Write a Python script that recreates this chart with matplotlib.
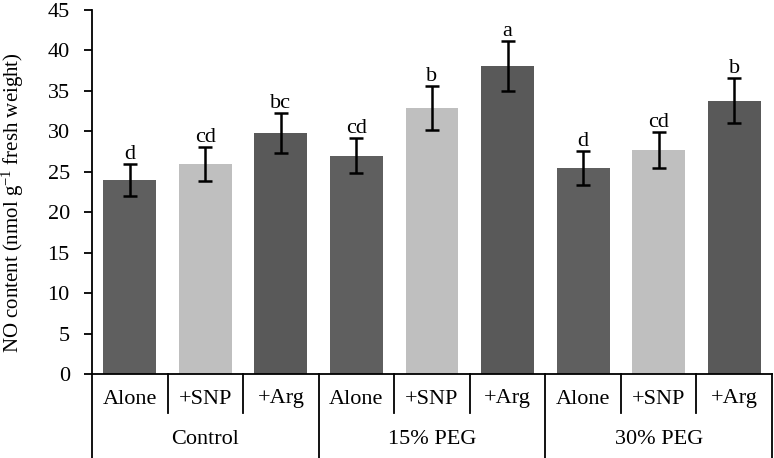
import matplotlib
matplotlib.use("Agg")
import matplotlib.pyplot as plt
import matplotlib.transforms as mtransforms

plt.rcParams['font.family'] = ['Liberation Serif', 'DejaVu Serif']
plt.rcParams['mathtext.fontset'] = 'custom'
plt.rcParams['mathtext.rm'] = 'Liberation Serif'
plt.rcParams['mathtext.it'] = 'Liberation Serif:italic'

groups = ["Control", "15% PEG", "30% PEG"]
treatments = ["Alone", "+SNP", "+Arg"]
values = [24.0, 26.0, 29.8, 27.0, 32.9, 38.1, 25.5, 27.7, 33.8]
errors = [2.0, 2.1, 2.45, 2.2, 2.7, 3.1, 2.1, 2.25, 2.8]
letters = ["d", "cd", "bc", "cd", "b", "a", "d", "cd", "b"]
colors_by_treatment = ["#5f5f5f", "#bfbfbf", "#595959"]

fig = plt.figure(figsize=(7.74, 4.58), dpi=100)
ax = fig.add_axes([92/774, 1-374/458, 680/774, 364/458])

n = len(values)
x = list(range(n))
cols = [colors_by_treatment[i % 3] for i in range(n)]
ax.bar(x, values, width=0.7, color=cols, zorder=2)
ax.errorbar(x, values, yerr=errors, fmt='none', ecolor='black', elinewidth=1.8,
            capsize=5, capthick=1.8, zorder=3)
for xi, v, e, l in zip(x, values, errors, letters):
    ax.text(xi, v + e + 0.6, l, ha='center', va='baseline', fontsize=16)

ax.set_xlim(-0.5, n - 0.5)
ax.set_ylim(0, 45)
ax.set_yticks(range(0, 46, 5))
ax.tick_params(axis='y', labelsize=16, length=6, width=1.3, direction='out', pad=10)
ax.set_xticks([])
ax.spines['top'].set_visible(False)
ax.spines['right'].set_visible(False)
ax.spines['left'].set_linewidth(1.3)
ax.spines['bottom'].set_linewidth(1.3)
ax.set_ylabel(r'NO content (nmol g$^{-1}$ fresh weight)', fontsize=15)
ax.yaxis.set_label_coords(-0.097, 0.472)

trans = mtransforms.blended_transform_factory(ax.transData, ax.transAxes)
short_y = -39/364
long_y = -84/364
for i in range(n + 1):
    xb = i - 0.5
    yb = long_y if i % 3 == 0 else short_y
    ax.plot([xb, xb], [0, yb], color='black', lw=1.3, transform=trans, clip_on=False)
for i in range(n):
    ax.text(i, -25/364, treatments[i % 3], ha='center', va='center',
            fontsize=16, transform=trans)
for g, name in enumerate(groups):
    ax.text(g * 3 + 1, -65/364, name, ha='center', va='center',
            fontsize=16, transform=trans)

fig.savefig("out.png", dpi=100)
